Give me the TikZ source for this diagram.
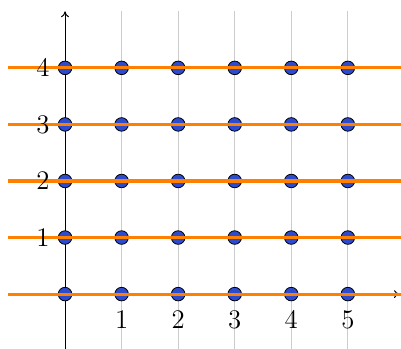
\documentclass[tikz,border=0pt]{standalone}
\usetikzlibrary{arrows.meta}
\definecolor{dotblue}{RGB}{45,75,205}
\definecolor{lineorange}{RGB}{255,128,0}
\tikzset{
  gridline/.style={gray!40, line width=0.5pt},
  axisline/.style={black, line width=0.5pt, -{To[length=3pt,width=4pt]}},
  dotnode/.style={circle, draw=black, line width=0.4pt, fill=dotblue, minimum size=0.24cm, inner sep=0pt},
  hline/.style={lineorange, line width=1.6pt},
  numlabel/.style={font=\fontsize{13.5}{16}\selectfont, inner sep=0pt}
}
\begin{document}
\begin{tikzpicture}
\useasboundingbox (-1.15,-0.97) rectangle (5.94,5.2);
% grid lines
\foreach \i in {1,...,5} {
  \coordinate (gb\i) at (\i,-1);
  \coordinate (gt\i) at (\i,5);
  \draw[gridline] (gb\i) -- (gt\i);
}
% axes
\coordinate (xs) at (-1,0);
\coordinate (xe) at (5.92,0);
\coordinate (ys) at (0,-1);
\coordinate (ye) at (0,5);
\draw[axisline] (xs) -- (xe);
\draw[axisline] (ys) -- (ye);
% dots
\foreach \i in {0,...,5} {
  \foreach \j in {0,...,4} {
    \node[dotnode] (d\i\j) at (\i,\j) {};
  }
}
% orange lines
\foreach \j in {0,...,4} {
  \coordinate (hl\j) at (-1,\j);
  \coordinate (hr\j) at (5.94,\j);
  \draw[hline] (hl\j) -- (hr\j);
}
% labels
\foreach \i in {1,...,5} {
  \node[numlabel] (xl\i) at (\i,-0.45) {\i};
}
\foreach \j in {1,...,4} {
  \node[numlabel] (yl\j) at (-0.39,\j) {\j};
}
\end{tikzpicture}
\end{document}
